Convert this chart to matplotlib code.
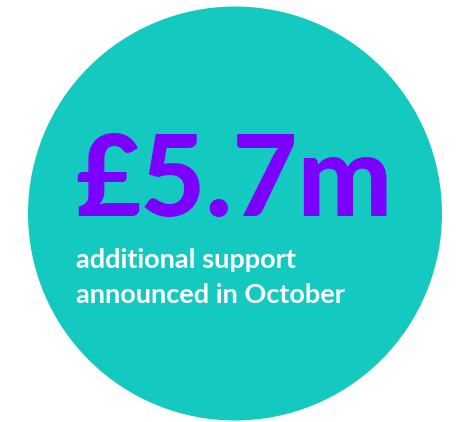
import matplotlib
matplotlib.use("Agg")
import matplotlib.pyplot as plt
from matplotlib.patches import Circle

# text content
amount = "£5.7m"
caption_lines = ["additional support", "announced in October"]

teal = "#14C9C0"
purple = "#7B00FF"

fig = plt.figure(figsize=(4.59, 4.22), dpi=100)
ax = fig.add_axes([0, 0, 1, 1])
ax.set_xlim(0, 459)
ax.set_ylim(422, 0)
ax.set_aspect("equal")
ax.axis("off")

ax.add_patch(Circle((235, 213.5), 207, color=teal, lw=0))

ax.text(75, 216, amount, fontsize=81, color=purple, family=["Lato", "DejaVu Sans"],
        fontweight="black", ha="left", va="baseline")

for i, line in enumerate(caption_lines):
    ax.text(76, 268 + i * 35, line, fontsize=19.5, color="white",
            family=["Lato", "DejaVu Sans"], fontweight="bold",
            ha="left", va="baseline")

fig.savefig("out.png", dpi=100)
